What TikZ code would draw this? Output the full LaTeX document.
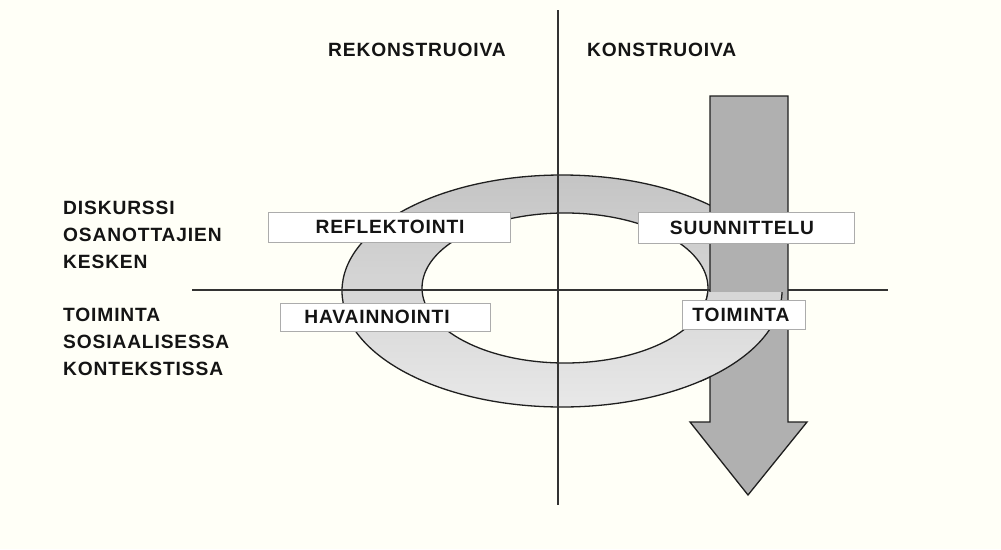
\documentclass[tikz,border=0pt]{standalone}
\usepackage{fontspec}
\setmainfont{Liberation Sans}[LetterSpace=4.5]
\begin{document}
\begin{tikzpicture}[x=1pt,y=-1pt,
  lbl/.style={font=\fontsize{19.2}{27}\selectfont\bfseries, text=black!92, inner sep=0pt},
  boxnode/.style={draw=gray!65, line width=1pt, fill=white, inner sep=0pt},
  axis/.style={draw=black!80, line width=1.4pt},
  ringshade/.style={top color=black!23!white, bottom color=black!9!white},
  ringline/.style={draw=black!88, line width=1.3pt}]
\fill[yellow!3!white] (0,0) rectangle (1001,549);
\useasboundingbox (0,0) rectangle (1001,549);
% ring
\shade[ringshade, even odd rule] (562,291) ellipse [x radius=220pt, y radius=116pt] (565,288) ellipse [x radius=143pt, y radius=75pt];
\draw[ringline] (562,291) ellipse [x radius=220pt, y radius=116pt];
\draw[ringline] (565,288) ellipse [x radius=143pt, y radius=75pt];
% axes
\coordinate (vt) at (558,10);
\coordinate (vb) at (558,505);
\coordinate (hl) at (192,290);
\coordinate (hr) at (888,290);
\draw[axis] (vt) -- (vb);
\draw[axis] (hl) -- (hr);
% arrow
\filldraw[fill=black!31!white, draw=black!88, line width=1.3pt, line join=miter]
  (710,96) -- (788,96) -- (788,422) -- (807,422) -- (748,495) -- (690,422) -- (710,422) -- cycle;
% lower ring part over arrow
\begin{scope}
\clip (700,292) rectangle (820,430);
\shade[ringshade, even odd rule] (562,291) ellipse [x radius=220pt, y radius=116pt] (565,288) ellipse [x radius=143pt, y radius=75pt];
\draw[ringline] (562,291) ellipse [x radius=220pt, y radius=116pt];
\draw[ringline] (565,288) ellipse [x radius=143pt, y radius=75pt];
\end{scope}
% boxes
\node[boxnode, minimum width=242pt, minimum height=30pt] (refb) at (389,227) {};
\node[lbl] (ref) at (390,227) {REFLEKTOINTI};
\node[boxnode, minimum width=210pt, minimum height=28pt] (havb) at (385,317) {};
\node[lbl] (hav) at (377,317) {HAVAINNOINTI};
\node[boxnode, minimum width=216pt, minimum height=31pt] (suub) at (746,227.5) {};
\node[lbl] (suu) at (742,228) {SUUNNITTELU};
\node[boxnode, minimum width=123pt, minimum height=29pt] (toib) at (743.5,314.5) {};
\node[lbl] (toi) at (741,315) {TOIMINTA};
% headers
\node[lbl, anchor=west] (rek) at (328,50) {REKONSTRUOIVA};
\node[lbl, anchor=west] (kon) at (587,50) {KONSTRUOIVA};
% left labels
\node[lbl, anchor=north west, align=left] (disk) at (63,201) {DISKURSSI\\OSANOTTAJIEN\\KESKEN};
\node[lbl, anchor=north west, align=left] (toim) at (63,308) {TOIMINTA\\SOSIAALISESSA\\KONTEKSTISSA};
\end{tikzpicture}
\end{document}
